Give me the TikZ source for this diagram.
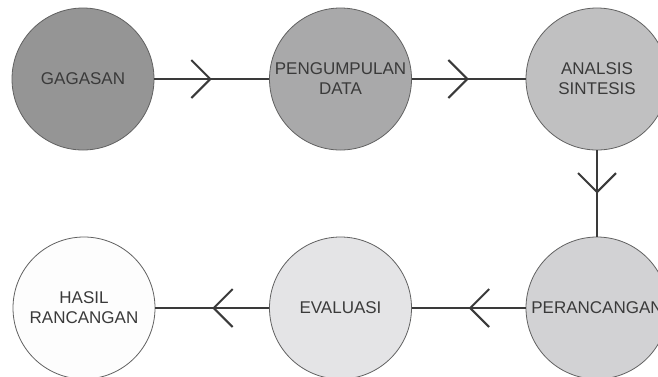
\documentclass[tikz,border=0pt]{standalone}
\usepackage{fontspec}
\setmainfont{Liberation Sans}
\usetikzlibrary{arrows.meta, decorations.markings}

\definecolor{tahapA}{HTML}{959595}
\definecolor{tahapB}{HTML}{A9A9AA}
\definecolor{tahapC}{HTML}{C0C0C1}
\definecolor{tahapD}{HTML}{D2D2D4}
\definecolor{tahapE}{HTML}{E4E4E6}
\definecolor{tahapF}{HTML}{FDFDFD}
\definecolor{garis}{HTML}{3A3A3A}

\begin{document}
\begin{tikzpicture}[
    x=1pt, y=-1pt,
    tahap/.style={circle, draw=garis!80, line width=0.8pt, minimum size=142pt, inner sep=0pt,
        align=center, text=garis, font=\fontsize{17}{20}\selectfont},
    alur/.style={draw=garis, line width=1.8pt, postaction={decorate},
        decoration={markings, mark=at position 0.5 with {\arrow[line width=2pt]{Straight Barb[length=19pt, width=38pt]}}}}
]
\clip (0,0) rectangle (658,376);
\fill[white] (0,0) rectangle (658,376);

% baris atas
\node[tahap, fill=tahapA] (gagasan) at (83,79) {GAGASAN};
\node[tahap, fill=tahapB] (data) at (340.5,79) {PENGUMPULAN\\DATA};
\node[tahap, fill=tahapC] (analisis) at (597,79) {ANALSIS\\SINTESIS};

% baris bawah
\node[tahap, fill=tahapD] (rancang) at (597,308) {PERANCANGAN};
\node[tahap, fill=tahapE] (evaluasi) at (340.5,308) {EVALUASI};
\node[tahap, fill=tahapF] (hasil) at (84,308) {HASIL\\RANCANGAN};

\draw[alur] (gagasan) -- (data);
\draw[alur] (data) -- (analisis);
\draw[alur] (analisis) -- (rancang);
\draw[alur] (rancang) -- (evaluasi);
\draw[alur] (evaluasi) -- (hasil);
\end{tikzpicture}
\end{document}
